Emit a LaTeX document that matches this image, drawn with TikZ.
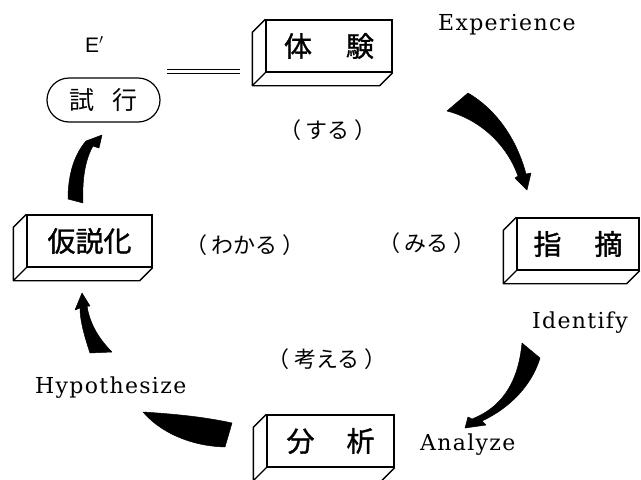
\documentclass[tikz,border=0pt]{standalone}
\usepackage{fontspec}
\setmainfont{Liberation Serif}
\newfontfamily\cjk{Noto Sans CJK JP}
\newfontfamily\cjkm[FakeBold=1.2]{Noto Sans CJK JP}
\newfontfamily\enspaced[LetterSpace=6]{DejaVu Serif}
\newfontfamily\ensans{Liberation Sans}
\newcommand\slabsides[1]{%
  \draw[slabedge] (#1.north west) -- ([shift={(-13,13)}]#1.north west)
    -- ([shift={(-13,13)}]#1.south west) -- ([shift={(-13,13)}]#1.south east)
    -- (#1.south east)
    (#1.south west) -- ([shift={(-13,13)}]#1.south west);}
\newcommand\pk[1]{（\hspace{5pt}#1\hspace{5pt}）}
\begin{document}
\begin{tikzpicture}[x=1pt,y=-1pt,
  slabface/.style={draw, line width=1.4pt, inner sep=0pt,
    font=\cjkm\fontsize{28}{28}\selectfont, minimum height=52pt},
  slabedge/.style={line width=1.4pt, line join=round},
  kana/.style={font=\cjk\fontsize{22}{22}\selectfont, inner sep=0pt},
  eng/.style={font=\enspaced\fontsize{22}{22}\selectfont, inner sep=0pt, anchor=base west},
  brush/.style={fill=black, draw=black, line width=0.5pt, line join=round}]
\useasboundingbox (0,0) rectangle (641,480);

% boxes
\node[slabface, minimum width=126pt] (exp) at (329,46) {体\hspace{34pt}験};
\node[slabface, minimum width=122pt] (idf) at (578,244) {指\hspace{33pt}摘};
\node[slabface, minimum width=125pt] (hyp) at (89.5,241) {仮説化};
\node[slabface, minimum width=127pt] (ana) at (330.5,441) {分\hspace{32pt}析};
\slabsides{exp}
\slabsides{idf}
\slabsides{hyp}
\slabsides{ana}

% trial
\node[draw, line width=1.2pt, rounded corners=22pt, minimum width=113pt,
  minimum height=44pt, inner sep=0pt, font=\cjk\fontsize{25}{25}\selectfont]
  (trial) at (103.5,100) {試\hspace{18pt}行};
\coordinate (dlA) at (167,69.5);
\coordinate (dlB) at (240,69.5);
\coordinate (dlC) at (167,73.5);
\coordinate (dlD) at (240,73.5);
\draw[line width=1pt] (dlA) -- (dlB) (dlC) -- (dlD);

% labels
\node[font=\ensans\fontsize{21}{21}\selectfont, anchor=base west, inner sep=0pt] (eprime) at (85,52) {E$'$};
\node[eng] (lexp) at (438,30) {Experience};
\node[eng] (lidf) at (532,328) {Identify};
\node[eng] (lana) at (420,450) {Analyze};
\node[eng] (lhyp) at (35,393) {Hypothesize};

\node[kana] (suru) at (328,130) {\pk{する}};
\node[kana] (wakaru) at (245,245) {\pk{わかる}};
\node[kana] (miru) at (427,243) {\pk{みる}};
\node[kana] (kangaeru) at (327,359) {\pk{考える}};

% brush arrows
\filldraw[brush] (447,111) .. controls (475,118) and (505,140) .. (518,176)
  -- (515,178) -- (527,190) -- (531,173) -- (526,174)
  .. controls (517,140) and (497,110) .. (468,93) -- cycle;
\filldraw[brush] (522,343) .. controls (518,385) and (500,408) .. (472,419)
  -- (468,417) -- (465,428) -- (486,425) -- (482,421)
  .. controls (510,408) and (532,385) .. (540,358) -- cycle;
\filldraw[brush] (143,412) .. controls (175,414) and (205,417) .. (232,423)
  -- (225,447) .. controls (190,446) and (160,432) .. (143,412) -- cycle;
\filldraw[brush] (90,353) .. controls (84,335) and (80,320) .. (80,308)
  -- (75,310) -- (82,293) -- (90,306) -- (87,306)
  .. controls (90,325) and (100,340) .. (112,352) -- cycle;
\filldraw[brush] (68,199) .. controls (68,175) and (74,155) .. (86,141)
  -- (102,135) -- (99,148) -- (93,146)
  .. controls (85,160) and (82,180) .. (83,203) -- cycle;
\end{tikzpicture}
\end{document}
